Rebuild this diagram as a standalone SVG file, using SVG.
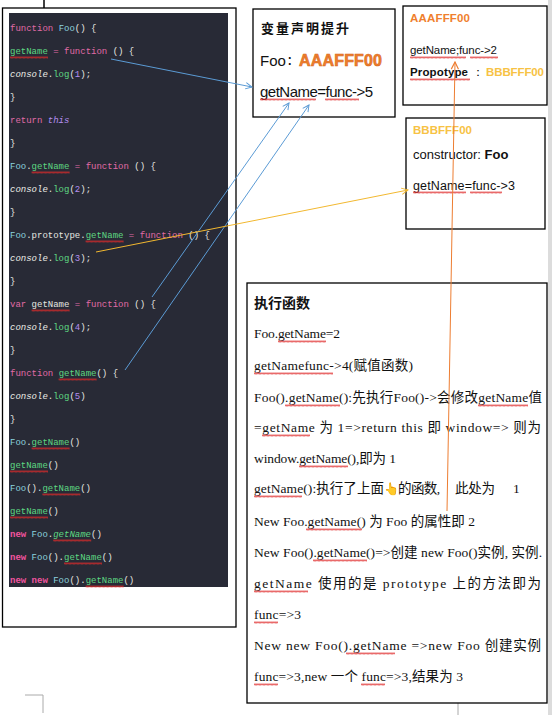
<svg xmlns="http://www.w3.org/2000/svg" width="552" height="715" viewBox="0 0 552 715">
<style>
.box{fill:#fff;stroke:#000;stroke-width:1.3}
.code{font-family:"Liberation Mono",monospace;font-size:9px;fill:#e6e6e0}
.k{fill:#e06aa6}
.n{fill:#f2549f;font-weight:bold}
.c{fill:#8cd3df}
.g{fill:#5ed882}
.i{font-style:italic;fill:#ecece6}
.p{fill:#b48ef0}
.pi{fill:#b48ef0;font-style:italic}
.sans{font-family:"Liberation Sans",Arial,sans-serif;fill:#111}
.ser{font-family:"Liberation Serif","Noto Sans CJK SC",serif;font-size:13.5px;fill:#111}
.org{fill:#ef7f2e;font-weight:bold}
.yel{fill:#f7c244;font-weight:bold}
.wv{fill:url(#w)}
.conn{fill:none;stroke-width:1}
</style>
<defs>
<pattern id="w" width="4" height="3" patternUnits="userSpaceOnUse">
<path d="M0,2.5 L1,0.5 L2,2.5 L3,0.5 L4,2.5" fill="none" stroke="#e02a2a" stroke-width="0.7"/>
</pattern>
<marker id="mb" viewBox="0 0 10 10" refX="9" refY="5" markerWidth="8" markerHeight="8" orient="auto" markerUnits="userSpaceOnUse">
<path d="M1,1 L9,5 L1,9" fill="none" stroke="#5b9bd5" stroke-width="1.2"/>
</marker>
<marker id="my" viewBox="0 0 10 10" refX="9" refY="5" markerWidth="8" markerHeight="8" orient="auto" markerUnits="userSpaceOnUse">
<path d="M1,1 L9,5 L1,9" fill="none" stroke="#f2b830" stroke-width="1.2"/>
</marker>
<marker id="mo" viewBox="0 0 10 10" refX="9" refY="5" markerWidth="9" markerHeight="9" orient="auto" markerUnits="userSpaceOnUse">
<path d="M1,1 L9,5 L1,9" fill="none" stroke="#ed7d31" stroke-width="1.3"/>
</marker>
</defs>
<rect width="552" height="715" fill="#fff"/>
<rect x="548" y="0" width="4" height="715" fill="#dcdcdc"/>
<line x1="44" y1="0" x2="44" y2="10" stroke="#000" stroke-width="1.5"/>
<path d="M25,695 H43 V713" fill="none" stroke="#aaa" stroke-width="1"/>
<line x1="458" y1="703" x2="458" y2="715" stroke="#aaa" stroke-width="1"/>

<g id="code-panel">
<rect class="box" x="2.5" y="8" width="233.5" height="619"/>
<rect x="9" y="13" width="219" height="574" fill="#282a36"/>
<text class="code" x="10" y="31"><tspan class="k">function</tspan> <tspan class="c">Foo</tspan>() {</text>
<text class="code" x="10" y="54"><tspan class="g">getName</tspan> <tspan class="k">=</tspan> <tspan class="k">function</tspan> () {</text>
<text class="code" x="10" y="77"><tspan class="i">console</tspan>.<tspan class="g">log</tspan>(<tspan class="p">1</tspan>);</text>
<text class="code" x="10" y="100">}</text>
<text class="code" x="10" y="123"><tspan class="k">return</tspan> <tspan class="pi">this</tspan></text>
<text class="code" x="10" y="146">}</text>
<text class="code" x="10" y="169"><tspan class="c">Foo</tspan>.<tspan class="g">getName</tspan> <tspan class="k">=</tspan> <tspan class="k">function</tspan> () {</text>
<text class="code" x="10" y="192"><tspan class="i">console</tspan>.<tspan class="g">log</tspan>(<tspan class="p">2</tspan>);</text>
<text class="code" x="10" y="215">}</text>
<text class="code" x="10" y="238"><tspan class="c">Foo</tspan>.prototype.<tspan class="g">getName</tspan> <tspan class="k">=</tspan> <tspan class="k">function</tspan> () {</text>
<text class="code" x="10" y="261"><tspan class="i">console</tspan>.<tspan class="g">log</tspan>(<tspan class="p">3</tspan>);</text>
<text class="code" x="10" y="284">}</text>
<text class="code" x="10" y="307"><tspan class="k">var</tspan> getName <tspan class="k">=</tspan> <tspan class="k">function</tspan> () {</text>
<text class="code" x="10" y="330"><tspan class="i">console</tspan>.<tspan class="g">log</tspan>(<tspan class="p">4</tspan>);</text>
<text class="code" x="10" y="353">}</text>
<text class="code" x="10" y="376"><tspan class="k">function</tspan> <tspan class="g">getName</tspan>() {</text>
<text class="code" x="10" y="399"><tspan class="i">console</tspan>.<tspan class="g">log</tspan>(<tspan class="p">5</tspan>)</text>
<text class="code" x="10" y="422">}</text>
<text class="code" x="10" y="445"><tspan class="c">Foo</tspan>.<tspan class="g">getName</tspan>()</text>
<text class="code" x="10" y="468"><tspan class="g">getName</tspan>()</text>
<text class="code" x="10" y="491"><tspan class="c">Foo</tspan>().<tspan class="g">getName</tspan>()</text>
<text class="code" x="10" y="514"><tspan class="g">getName</tspan>()</text>
<text class="code" x="10" y="537"><tspan class="n">new</tspan> <tspan class="c">Foo</tspan>.<tspan class="g" font-style="italic">getName</tspan>()</text>
<text class="code" x="10" y="560"><tspan class="n">new</tspan> <tspan class="c">Foo</tspan>().<tspan class="g">getName</tspan>()</text>
<text class="code" x="10" y="583"><tspan class="n">new</tspan> <tspan class="n">new</tspan> <tspan class="c">Foo</tspan>().<tspan class="g">getName</tspan>()</text>
<rect class="wv" transform="translate(10,56)" width="38" height="3"/>
<rect class="wv" transform="translate(31.6,171)" width="38" height="3"/>
<rect class="wv" transform="translate(85.6,240)" width="38" height="3"/>
<rect class="wv" transform="translate(31.6,309)" width="38" height="3"/>
<rect class="wv" transform="translate(58.6,378)" width="38" height="3"/>
<rect class="wv" transform="translate(31.6,447)" width="38" height="3"/>
<rect class="wv" transform="translate(10,470)" width="38" height="3"/>
<rect class="wv" transform="translate(42.4,493)" width="38" height="3"/>
<rect class="wv" transform="translate(10,516)" width="38" height="3"/>
<rect class="wv" transform="translate(53.2,539)" width="38" height="3"/>
<rect class="wv" transform="translate(64,562)" width="38" height="3"/>
<rect class="wv" transform="translate(85.6,585)" width="38" height="3"/>
</g>

<g id="hoisting-box">
<rect class="box" x="253" y="9" width="142" height="108"/>
<text x="261" y="33" font-family="'Noto Sans CJK SC',sans-serif" font-size="13" font-weight="bold" letter-spacing="2" fill="#111">变量声明提升</text>
<text class="sans" x="260" y="66" font-size="15">Foo</text>
<text x="287" y="65" font-family="'Noto Sans CJK SC',sans-serif" font-size="11" font-weight="bold" fill="#111">：</text>
<text class="sans org" x="299" y="66" stroke="#d8681c" stroke-width="0.6" font-size="16" textLength="83">AAAFFF00</text>
<text class="sans" x="260" y="97" font-size="15" textLength="113" lengthAdjust="spacing">getName=func-&gt;5</text>
<rect class="wv" transform="translate(260,98)" width="56" height="3"/>
<rect class="wv" transform="translate(325,98)" width="34" height="3"/>
</g>

<g id="foo-object-box">
<rect class="box" x="403" y="6" width="144" height="99"/>
<text class="sans org" x="410" y="22" font-size="11.5" textLength="60">AAAFFF00</text>
<text class="sans" x="410" y="54" font-size="11.5" textLength="87" lengthAdjust="spacing">getName;func-&gt;2</text>
<text class="sans" x="410" y="76" font-size="11.5"><tspan font-weight="bold" textLength="58">Propotype</tspan><tspan x="472">：</tspan><tspan class="yel" x="486" textLength="58">BBBFFF00</tspan></text>
<rect class="wv" transform="translate(410,56)" width="56" height="3"/>
<rect class="wv" transform="translate(470,56)" width="28" height="3"/>
<rect class="wv" transform="translate(410,78)" width="60" height="3"/>
</g>

<g id="prototype-box">
<rect class="box" x="406" y="118" width="139" height="111"/>
<text class="sans yel" x="413" y="134" font-size="11.5" textLength="59">BBBFFF00</text>
<text class="sans" x="413" y="159" font-size="13">constructor: <tspan font-weight="bold">Foo</tspan></text>
<text class="sans" x="413" y="190" font-size="12.5" textLength="102" lengthAdjust="spacing">getName=func-&gt;3</text>
<rect class="wv" transform="translate(413,191)" width="53" height="3"/>
<rect class="wv" transform="translate(470,191)" width="32" height="3"/>
</g>

<g id="execution-box">
<rect class="box" x="247" y="283" width="300" height="420"/>
<text x="254" y="308" font-family="'Noto Sans CJK SC',sans-serif" font-size="14" font-weight="bold" fill="#111" textLength="56">执行函数</text>
<text class="ser" x="254" y="338" textLength="86" lengthAdjust="spacing">Foo.getName=2</text>
<text class="ser" x="254" y="370" textLength="159" lengthAdjust="spacing">getNamefunc-&gt;4(赋值函数)</text>
<text class="ser" x="254" y="402" textLength="288" lengthAdjust="spacing">Foo().getName():先执行Foo()-&gt;会修改getName值</text>
<text class="ser" x="254" y="432" textLength="287" lengthAdjust="spacing">=getName 为 1=&gt;return this 即 window=&gt; 则为</text>
<text class="ser" x="254" y="463" textLength="142" lengthAdjust="spacing">window.getName(),即为 1</text>
<text class="ser" x="254" y="493" textLength="130" lengthAdjust="spacing">getName():执行了上面</text>
<text x="384" y="493" font-family="'Noto Color Emoji','DejaVu Sans',sans-serif" font-size="12" fill="#f0a020">👆</text>
<text class="ser" x="398" y="493" textLength="42" lengthAdjust="spacing">的函数,</text>
<text class="ser" x="455" y="493" textLength="40" lengthAdjust="spacing">此处为</text>
<text class="ser" x="513" y="493">1</text>
<text class="ser" x="254" y="526" textLength="221" lengthAdjust="spacing">New Foo.getName() 为 Foo 的属性即 2</text>
<text class="ser" x="254" y="557" textLength="288" lengthAdjust="spacing">New Foo().getName()=&gt;创建 new Foo()实例, 实例.</text>
<text class="ser" x="254" y="588" textLength="287" lengthAdjust="spacing">getName 使用的是 prototype 上的方法即为</text>
<text class="ser" x="254" y="619" textLength="47" lengthAdjust="spacing">func=&gt;3</text>
<text class="ser" x="254" y="650" textLength="287" lengthAdjust="spacing">New new Foo().getName =&gt;new Foo 创建实例</text>
<text class="ser" x="254" y="681" textLength="209" lengthAdjust="spacing">func=&gt;3,new 一个 func=&gt;3,结果为 3</text>
<rect class="wv" transform="translate(278,340)" width="48" height="3"/>
<rect class="wv" transform="translate(254,372)" width="79" height="3"/>
<rect class="wv" transform="translate(285,404)" width="55" height="3"/>
<rect class="wv" transform="translate(478,404)" width="50" height="3"/>
<rect class="wv" transform="translate(262,434)" width="48" height="3"/>
<rect class="wv" transform="translate(299,465)" width="49" height="3"/>
<rect class="wv" transform="translate(254,495)" width="48" height="3"/>
<rect class="wv" transform="translate(306,528)" width="56" height="3"/>
<rect class="wv" transform="translate(313,559)" width="54" height="3"/>
<rect class="wv" transform="translate(254,590)" width="54" height="3"/>
<rect class="wv" transform="translate(254,621)" width="24" height="3"/>
<rect class="wv" transform="translate(346,652)" width="49" height="3"/>
<rect class="wv" transform="translate(254,683)" width="24" height="3"/>
<rect class="wv" transform="translate(361,683)" width="24" height="3"/>
</g>

<g id="connectors">
<line class="conn" x1="111" y1="59" x2="252" y2="87" stroke="#5b9bd5" marker-end="url(#mb)"/>
<line class="conn" x1="152" y1="297" x2="289" y2="103" stroke="#5b9bd5" marker-end="url(#mb)"/>
<line class="conn" x1="125" y1="370" x2="309" y2="105" stroke="#5b9bd5" marker-end="url(#mb)"/>
<line class="conn" x1="96" y1="252" x2="408" y2="190" stroke="#f2b830" marker-end="url(#my)"/>
<line class="conn" x1="447" y1="511" x2="455" y2="62" stroke="#ed7d31" stroke-width="1.3" marker-end="url(#mo)"/>
</g>
</svg>
